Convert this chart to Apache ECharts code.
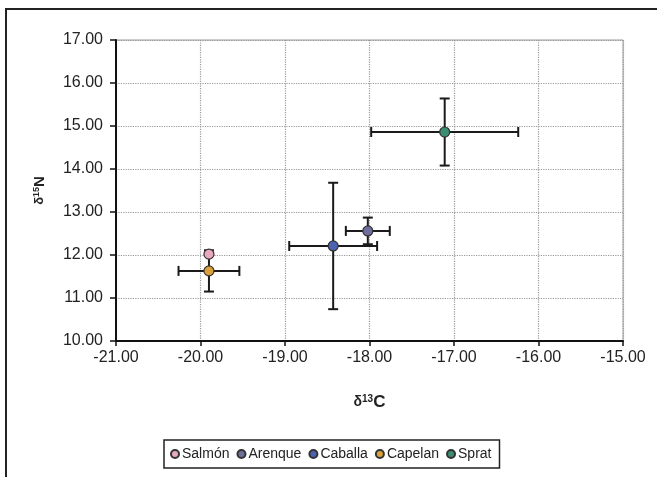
<!DOCTYPE html>
<html>
<head>
<meta charset="utf-8">
<script src="https://cdn.jsdelivr.net/npm/echarts@6/dist/echarts.min.js"></script>
<style>html,body{margin:0;padding:0;background:#fff;}#c{width:657px;height:477px;}</style>
</head>
<body>
<div id="c"></div>
<script>
const speciesNames = ['Salmón', 'Arenque', 'Caballa', 'Capelan', 'Sprat'];
const d13C = [-19.90, -18.02, -18.43, -19.90, -17.11];
const d15N = [12.02, 12.56, 12.21, 11.63, 14.86];
const d13CErr = [0.00, 0.26, 0.52, 0.36, 0.87];
const d15NErr = [0.00, 0.31, 1.47, 0.48, 0.78];
const speciesColors = ['#e7a8c0', '#6f6f9e', '#4a62b0', '#dca03a', '#3b8d6f'];
const xTicks = [-21, -20, -19, -18, -17, -16, -15];
const yTicks = [10, 11, 12, 13, 14, 15, 16, 17];

const FONT = '"Liberation Sans", Arial, sans-serif';
const chart = echarts.init(document.getElementById('c'), null, {renderer: 'canvas'});

const errData = speciesNames.map((n, i) => [d13C[i], d15N[i], d13CErr[i], d15NErr[i]]);

const series = [{
  type: 'custom',
  name: 'err',
  silent: true,
  z: 2,
  data: errData,
  encode: {x: 0, y: 1},
  renderItem: function (params, api) {
    const x = api.value(0), y = api.value(1), ex = api.value(2), ey = api.value(3);
    const children = [];
    const st = {stroke: '#1a1a1a', lineWidth: 2};
    const cap = 5;
    if (ex > 0) {
      const a = api.coord([x - ex, y]), b = api.coord([x + ex, y]);
      children.push({type: 'line', shape: {x1: a[0], y1: a[1], x2: b[0], y2: b[1]}, style: st});
      children.push({type: 'line', shape: {x1: a[0], y1: a[1] - cap, x2: a[0], y2: a[1] + cap}, style: st});
      children.push({type: 'line', shape: {x1: b[0], y1: b[1] - cap, x2: b[0], y2: b[1] + cap}, style: st});
    }
    if (ey > 0) {
      const a = api.coord([x, y - ey]), b = api.coord([x, y + ey]);
      children.push({type: 'line', shape: {x1: a[0], y1: a[1], x2: b[0], y2: b[1]}, style: st});
      children.push({type: 'line', shape: {x1: a[0] - cap, y1: a[1], x2: a[0] + cap, y2: a[1]}, style: st});
      children.push({type: 'line', shape: {x1: b[0] - cap, y1: b[1], x2: b[0] + cap, y2: b[1]}, style: st});
    }
    return {type: 'group', children: children};
  }
}];

speciesNames.forEach((n, i) => {
  series.push({
    type: 'scatter',
    name: n,
    z: 5,
    symbol: 'circle',
    symbolSize: 10,
    itemStyle: {color: speciesColors[i], borderColor: '#333', borderWidth: 1.2, opacity: 1},
    data: [[d13C[i], d15N[i]]]
  });
});

const option = {
  backgroundColor: '#fff',
  animation: false,
  textStyle: {fontFamily: FONT},
  graphic: [{
    type: 'rect',
    shape: {x: 6, y: 9, width: 700, height: 500},
    style: {fill: 'none', stroke: '#222', lineWidth: 2},
    silent: true
  }],
  grid: {left: 116, top: 40, right: 34, bottom: 136, show: true, borderColor: '#9a9a9a', borderWidth: 1},
  xAxis: {
    type: 'value',
    min: xTicks[0], max: xTicks[xTicks.length - 1], interval: 1,
    name: '{d|δ}{s|13}{b|C}',
    nameLocation: 'middle',
    nameGap: 53,
    nameTextStyle: {
      rich: {
        d: {fontSize: 14, fontFamily: FONT, color: '#222', fontWeight: 'bold'},
        s: {fontSize: 10, fontFamily: FONT, color: '#222', fontWeight: 'bold', verticalAlign: 'top', padding: [0, 0, 6, 0]},
        b: {fontSize: 17, fontFamily: FONT, color: '#222', fontWeight: 'bold'}
      }
    },
    axisLine: {show: true, lineStyle: {color: '#111', width: 2}},
    axisTick: {show: true, length: 5, lineStyle: {color: '#111', width: 1.5}},
    axisLabel: {fontSize: 16, color: '#222', margin: 9, fontFamily: FONT, formatter: v => v.toFixed(2)},
    splitLine: {show: true, lineStyle: {type: 'dotted', color: '#999', width: 1.2}}
  },
  yAxis: {
    type: 'value',
    min: yTicks[0], max: yTicks[yTicks.length - 1], interval: 1,
    name: '{d|δ}{s|15}{b|N}',
    nameLocation: 'middle',
    nameGap: 69,
    nameRotate: 90,
    nameTextStyle: {
      rich: {
        d: {fontSize: 13, fontFamily: FONT, color: '#222', fontWeight: 'bold'},
        s: {fontSize: 9, fontFamily: FONT, color: '#222', fontWeight: 'bold', verticalAlign: 'top', padding: [0, 0, 6, 0]},
        b: {fontSize: 15, fontFamily: FONT, color: '#222', fontWeight: 'bold'}
      }
    },
    axisLine: {show: true, lineStyle: {color: '#111', width: 2}},
    axisTick: {show: true, length: 6, lineStyle: {color: '#111', width: 1.5}},
    axisLabel: {fontSize: 16, color: '#222', margin: 13, fontFamily: FONT, formatter: v => v.toFixed(2)},
    splitLine: {show: true, lineStyle: {type: 'dotted', color: '#999', width: 1.2}}
  },
  legend: {
    data: speciesNames,
    left: 164,
    top: 440,
    orient: 'horizontal',
    borderColor: '#222',
    borderWidth: 1.5,
    padding: [7, 8, 7, 6],
    itemGap: 7,
    itemWidth: 8,
    itemHeight: 8,
    icon: 'circle',
    textStyle: {fontSize: 14, color: '#222', fontFamily: FONT, padding: [0, 0, 0, -2]}
  },
  series: series
};
chart.setOption(option);
</script>
</body>
</html>
